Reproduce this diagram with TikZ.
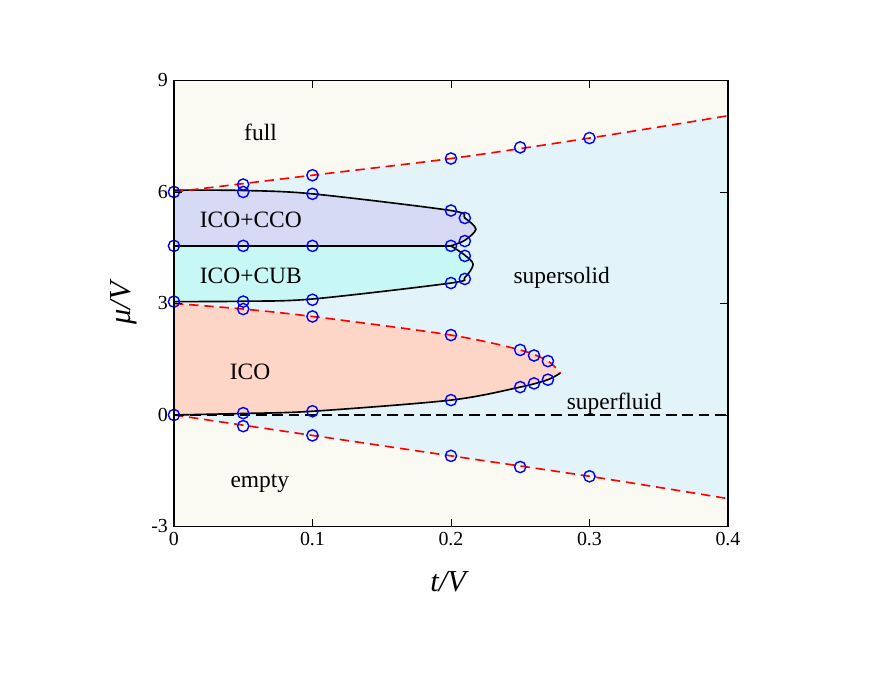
\documentclass[tikz,border=0pt]{standalone}
\usepackage{fontspec}
\setmainfont{Liberation Serif}
\usetikzlibrary{arrows.meta}
\definecolor{bgpale}{HTML}{FAFAF2}
\definecolor{ssblue}{HTML}{E2F4FA}
\definecolor{ccocol}{HTML}{D6DAF5}
\definecolor{cubcol}{HTML}{C8F8F5}
\definecolor{icocol}{HTML}{FDD6C7}
\tikzset{
  bound/.style={line width=1.4pt,black},
  redline/.style={line width=1.4pt,red,dash pattern=on 8pt off 5pt},
  datapt/.style={blue,line width=1.2pt},
  lbl/.style={font=\fontsize{20}{22}\selectfont},
  ticklbl/.style={font=\fontsize{17}{19}\selectfont,inner sep=5pt}
}
\begin{document}
\begin{tikzpicture}[x=41.55cm,y=1.115cm]
  \useasboundingbox (-0.1256,-6.968) rectangle (0.504,11.165);
  % frame background
  \fill[bgpale] (0,-3) rectangle (0.4,9);
  % supersolid and superfluid
  \fill[ssblue] plot[smooth] coordinates {(0,6) (0.1,6.45) (0.2,6.9) (0.3,7.45) (0.4,8.05)}
    -- (0.4,-2.25) -- plot[smooth] coordinates {(0.3,-1.65) (0.2,-1.1) (0.1,-0.55) (0,0)} -- cycle;
  % ICO lobe
  \fill[icocol] plot[smooth] coordinates {(0,3.0) (0.05,2.85) (0.1,2.65) (0.2,2.15) (0.25,1.75) (0.27,1.45) (0.279,1.13)}
    -- plot[smooth] coordinates {(0.279,1.13) (0.27,0.95) (0.25,0.75) (0.2,0.4) (0.1,0.1) (0.05,0.04) (0,0)} -- cycle;
  % ICO+CCO
  \fill[ccocol] plot[smooth] coordinates {(0,6.05) (0.05,6.04) (0.1,5.95) (0.2,5.5) (0.21,5.3) (0.218,5.0) (0.21,4.7) (0.2,4.55)} -- (0,4.55) -- cycle;
  % ICO+CUB
  \fill[cubcol] plot[smooth] coordinates {(0.2,4.55) (0.21,4.3) (0.216,4.05) (0.21,3.7) (0.2,3.55) (0.1,3.12) (0.05,3.06) (0,3.05)} -- (0,4.55) -- cycle;
  % boundaries
  \draw[bound] plot[smooth] coordinates {(0,6.05) (0.05,6.04) (0.1,5.95) (0.2,5.5) (0.21,5.3) (0.218,5.0) (0.21,4.7) (0.2,4.55)};
  \draw[bound] plot[smooth] coordinates {(0.2,4.55) (0.21,4.3) (0.216,4.05) (0.21,3.7) (0.2,3.55) (0.1,3.12) (0.05,3.06) (0,3.05)};
  \draw[bound] (0,4.55) -- (0.2,4.55);
  \draw[bound] plot[smooth] coordinates {(0.279,1.13) (0.27,0.95) (0.25,0.75) (0.2,0.4) (0.1,0.1) (0.05,0.04) (0,0)};
  \draw[redline] plot[smooth] coordinates {(0,3.0) (0.05,2.85) (0.1,2.65) (0.2,2.15) (0.25,1.75) (0.27,1.45) (0.279,1.13)};
  \draw[redline] plot[smooth] coordinates {(0,6) (0.1,6.45) (0.2,6.9) (0.3,7.45) (0.4,8.05)};
  \draw[redline] plot[smooth] coordinates {(0,0) (0.1,-0.55) (0.2,-1.1) (0.3,-1.65) (0.4,-2.25)};
  \draw[line width=1.2pt,dash pattern=on 9pt off 5pt] (0,0) -- (0.4,0);
  % data points
  \foreach \t/\m in {0/6,0/4.55,0/3.05,0/0,
    0.05/6.2,0.05/6.0,0.05/4.55,0.05/3.05,0.05/2.85,0.05/0.05,0.05/-0.3,
    0.1/6.45,0.1/5.95,0.1/4.55,0.1/3.1,0.1/2.65,0.1/0.1,0.1/-0.55,
    0.2/6.9,0.2/5.5,0.2/4.55,0.2/3.55,0.2/2.15,0.2/0.4,0.2/-1.1,
    0.21/5.3,0.21/4.68,0.21/4.28,0.21/3.66,
    0.25/7.2,0.25/1.75,0.25/0.75,0.25/-1.4,0.26/1.6,0.26/0.85,
    0.27/1.45,0.27/0.95,0.3/7.45,0.3/-1.65}
    \draw[datapt] (\t,\m) circle (4.8pt);
  % frame and ticks
  \draw[line width=1.2pt] (0,-3) rectangle (0.4,9);
  \foreach \v in {-3,0,3,6,9} {
    \draw (0,\v) -- ++(0.006,0);
    \draw (0.4,\v) -- ++(-0.006,0);
    \node[ticklbl,left] at (0,\v) {\v};
  }
  \foreach \v in {0,0.1,0.2,0.3,0.4} {
    \draw (\v,-3) -- ++(0,0.2);
    \draw (\v,9) -- ++(0,-0.2);
    \node[ticklbl,below] at (\v,-3) {\v};
  }
  % axis labels
  \node[font=\fontsize{26}{28}\selectfont\itshape,rotate=90] at (-0.036,3) {μ/V};
  \node[font=\fontsize{26}{28}\selectfont\itshape] at (0.198,-4.48) {t/V};
  % phase labels
  \node[lbl] at (0.0625,7.6) {full};
  \node[lbl] at (0.0555,5.25) {ICO+CCO};
  \node[lbl] at (0.0555,3.75) {ICO+CUB};
  \node[lbl] at (0.055,1.15) {ICO};
  \node[lbl] at (0.28,3.7) {supersolid};
  \node[lbl] at (0.318,0.3) {superfluid};
  \node[lbl] at (0.062,-1.85) {empty};
\end{tikzpicture}
\end{document}
